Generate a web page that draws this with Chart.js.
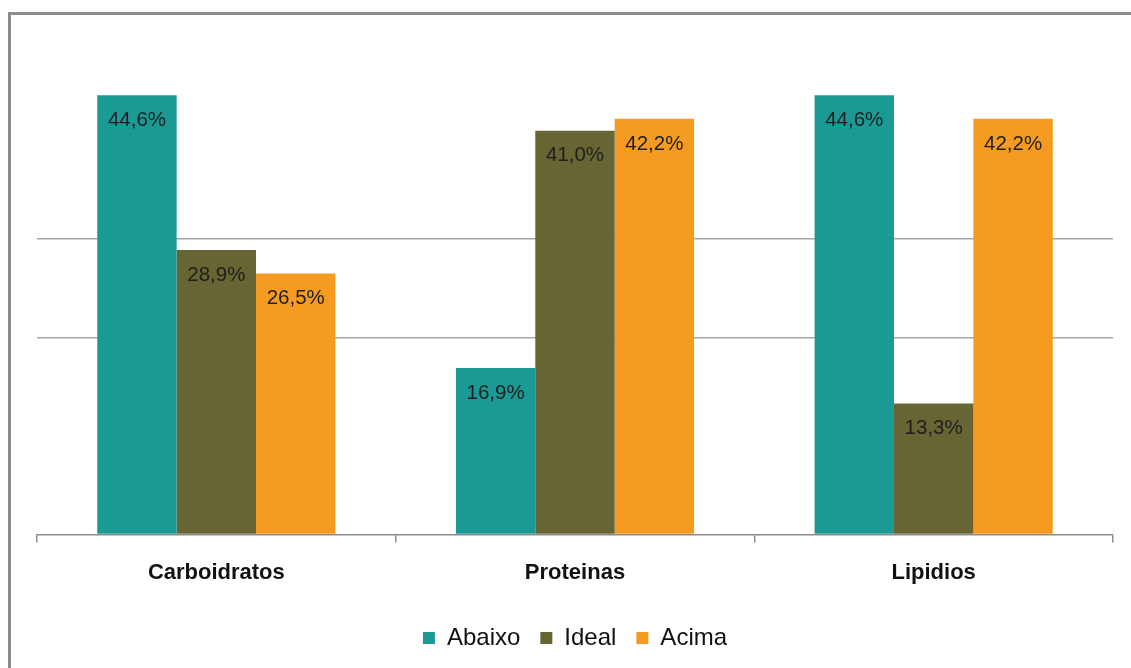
<!DOCTYPE html>
<html>
<head>
<meta charset="utf-8">
<script src="https://cdn.jsdelivr.net/npm/chart.js@4.4.0/dist/chart.umd.min.js"></script>
<style>
html,body{margin:0;padding:0;background:#fff;}
#wrap{position:relative;width:1131px;height:668px;}
</style>
</head>
<body>
<div id="wrap"><canvas id="c"></canvas></div>
<script>
const categories = ['Carboidratos', 'Proteinas', 'Lipidios'];
const seriesNames = ['Abaixo', 'Ideal', 'Acima'];
const abaixo = [44.6, 16.9, 44.6];
const ideal = [28.9, 41.0, 13.3];
const acima = [26.5, 42.2, 42.2];
const colors = ['#1b9a95', '#666533', '#f59b21'];
const gridValues = [20, 30];

const framePlugin = {
  id: 'frame',
  beforeDraw(chart) {
    const ctx = chart.ctx;
    ctx.save();
    ctx.fillStyle = '#ffffff';
    ctx.fillRect(0, 0, chart.width, chart.height);
    ctx.strokeStyle = '#8c8c8c';
    ctx.lineWidth = 3;
    ctx.strokeRect(9.5, 13.5, 2000, 2000);
    ctx.restore();
  }
};

const labelPlugin = {
  id: 'vlabels',
  afterDatasetsDraw(chart) {
    const ctx = chart.ctx;
    ctx.save();
    ctx.font = '20.5px "Liberation Sans", Arial, sans-serif';
    ctx.fillStyle = '#1e1e1e';
    ctx.textAlign = 'center';
    ctx.textBaseline = 'middle';
    chart.data.datasets.forEach((ds, i) => {
      const meta = chart.getDatasetMeta(i);
      meta.data.forEach((bar, j) => {
        const v = ds.data[j];
        ctx.fillText(v.toFixed(1).replace('.', ',') + '%', bar.x, bar.y + 25);
      });
    });
    ctx.restore();
  }
};

new Chart(document.getElementById('c'), {
  type: 'bar',
  data: {
    labels: categories,
    datasets: [
      { label: seriesNames[0], data: abaixo, backgroundColor: colors[0] },
      { label: seriesNames[1], data: ideal, backgroundColor: colors[1] },
      { label: seriesNames[2], data: acima, backgroundColor: colors[2] }
    ]
  },
  options: {
    responsive: true,
    maintainAspectRatio: false,
    animation: false,
    layout: { padding: { left: 37, right: 18, top: 42, bottom: 8 } },
    datasets: { bar: { categoryPercentage: 0.664, barPercentage: 1.0 } },
    plugins: {
      legend: {
        position: 'bottom',
        labels: {
          boxWidth: 12, boxHeight: 12, padding: 20,
          color: '#111',
          font: { family: '"Liberation Sans", Arial, sans-serif', size: 24 }
        }
      },
      tooltip: { enabled: false }
    },
    scales: {
      x: {
        afterFit: (scale) => { scale.height += 3; },
        grid: { offset: true, drawOnChartArea: false, drawTicks: true, tickLength: 8, color: '#8c8c8c', lineWidth: 1.5 },
        border: { display: true, color: '#8c8c8c', width: 1.5 },
        ticks: { padding: 17, color: '#111', font: { family: '"Liberation Sans", Arial, sans-serif', size: 22, weight: 'bold' } }
      },
      y: {
        min: 0, max: 50,
        ticks: { display: false, stepSize: 10 },
        border: { display: false },
        grid: {
          drawTicks: false,
          lineWidth: 1.5,
          color: (c) => gridValues.includes(c.tick.value) ? '#a6a6a6' : 'rgba(0,0,0,0)'
        }
      }
    }
  },
  plugins: [framePlugin, labelPlugin]
});
</script>
</body>
</html>
